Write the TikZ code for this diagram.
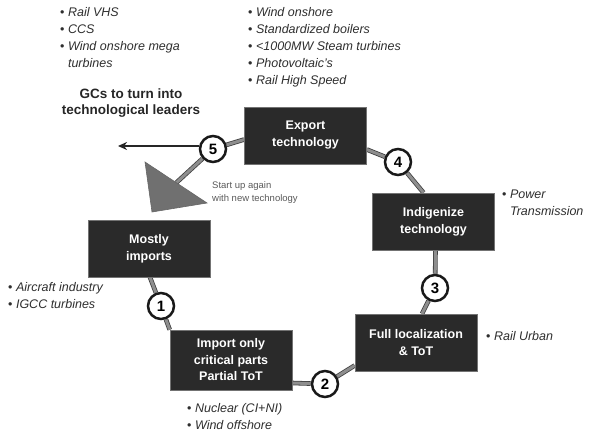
\documentclass[tikz,border=0pt]{standalone}
\usepackage{fontspec}
\setmainfont{Liberation Sans}
\usetikzlibrary{arrows.meta,calc}
\pgfdeclarelayer{background}
\pgfsetlayers{background,main}
\definecolor{boxfill}{HTML}{2A2A2A}
\definecolor{bultext}{HTML}{2E2E2E}
\definecolor{connfill}{HTML}{8E8E8E}
\definecolor{trifill}{HTML}{707070}
\newcommand{\bl}{{\upshape\textbullet}\ }
\tikzset{
  stage/.style={draw=black!55, line width=0.6pt, fill=boxfill, text=white,
    font=\fontsize{12.5}{17}\selectfont\bfseries, align=center, inner sep=0pt,
    minimum width=122pt, minimum height=57pt},
  num/.style={circle, draw=black!90, line width=2.5pt, fill=white, minimum size=26pt,
    inner sep=0pt, font=\fontsize{15}{15}\selectfont\bfseries},
  conn/.style={draw=black!75, line width=0.8pt, double=connfill, double distance=3pt},
  bullets/.style={align=left, text=bultext, font=\fontsize{12.5}{17}\selectfont\itshape,
    inner sep=0pt, anchor=north west},
  note/.style={align=left, text=black!65, font=\fontsize{9.5}{13}\selectfont,
    inner sep=0pt, anchor=north west}
}
\begin{document}
\begin{tikzpicture}[x=1pt,y=-1pt]
\useasboundingbox (0,0) rectangle (604,435);
% stage boxes
\node[stage] (exp) at (305.5,135.5) {Export\\technology};
\node[stage] (ind) at (433.5,221.5) {Indigenize\\technology};
\node[stage] (full) at (416,342.5) {Full localization\\\& ToT};
\node[stage, minimum height=60pt, font=\fontsize{12.5}{16.5}\selectfont\bfseries] (imp) at (231,360) {Import only\\critical parts\\Partial ToT};
\node[stage] (most) at (149,248.5) {Mostly\\imports};
% numbered circles
\node[num] (c5) at (213,149) {5};
\node[num] (c4) at (398,162) {4};
\node[num] (c3) at (435,288) {3};
\node[num] (c2) at (325,384) {2};
\node[num] (c1) at (161,306) {1};
% free ends
\coordinate (ae) at (118,146);
\coordinate (tb) at (176,183);
\begin{pgfonlayer}{background}
\draw[conn] ([yshift=-4pt]exp.west) -- (c5);
\draw[conn] ([yshift=-14pt]exp.east) -- (c4);
\draw[conn] (c4) -- ([xshift=-10pt]ind.north);
\draw[conn] ([xshift=2pt]ind.south) -- (c3);
\draw[conn] (c3) -- ([xshift=6pt]full.north);
\draw[conn] ([yshift=-23pt]full.west) -- (c2);
\draw[conn] (c2) -- ([yshift=-23pt]imp.east);
\draw[conn] (imp.north west) -- (c1);
\draw[conn] (c1) -- ([xshift=1pt]most.south);
\draw[conn] (c5) -- (tb);
\draw[black!85, line width=1.8pt, -{Stealth[length=9pt,width=8pt]}] (c5.west |- ae) -- (ae);
\end{pgfonlayer}
\filldraw[fill=trifill, draw=black!60, line width=0.6pt] (145,162) -- (207,203) -- (152,212) -- cycle;
% texts
\node[bullets] (tl) at (60,7) {\bl Rail VHS\\ \bl CCS\\ \bl Wind onshore mega\\ \hphantom{\bl}turbines};
\node[align=center, inner sep=0pt, text=black!85, font=\fontsize{13.5}{16.5}\selectfont\bfseries] (gcs) at (131,103) {GCs to turn into\\technological leaders};
\node[bullets] (tr) at (248,7) {\bl Wind onshore\\ \bl Standardized boilers\\ \bl <1000MW Steam turbines\\ \bl Photovoltaic's\\ \bl Rail High Speed};
\node[note] (start) at (212,181) {Start up again\\with new technology};
\node[bullets] (pt) at (502,190) {\bl Power\\ \hphantom{\bl}Transmission};
\node[bullets] (ru) at (486,331) {\bl Rail Urban};
\node[bullets] (ai) at (8,282) {\bl Aircraft industry\\ \bl IGCC turbines};
\node[bullets] (nu) at (187,403) {\bl Nuclear (CI+NI)\\ \bl Wind offshore};
\end{tikzpicture}
\end{document}
